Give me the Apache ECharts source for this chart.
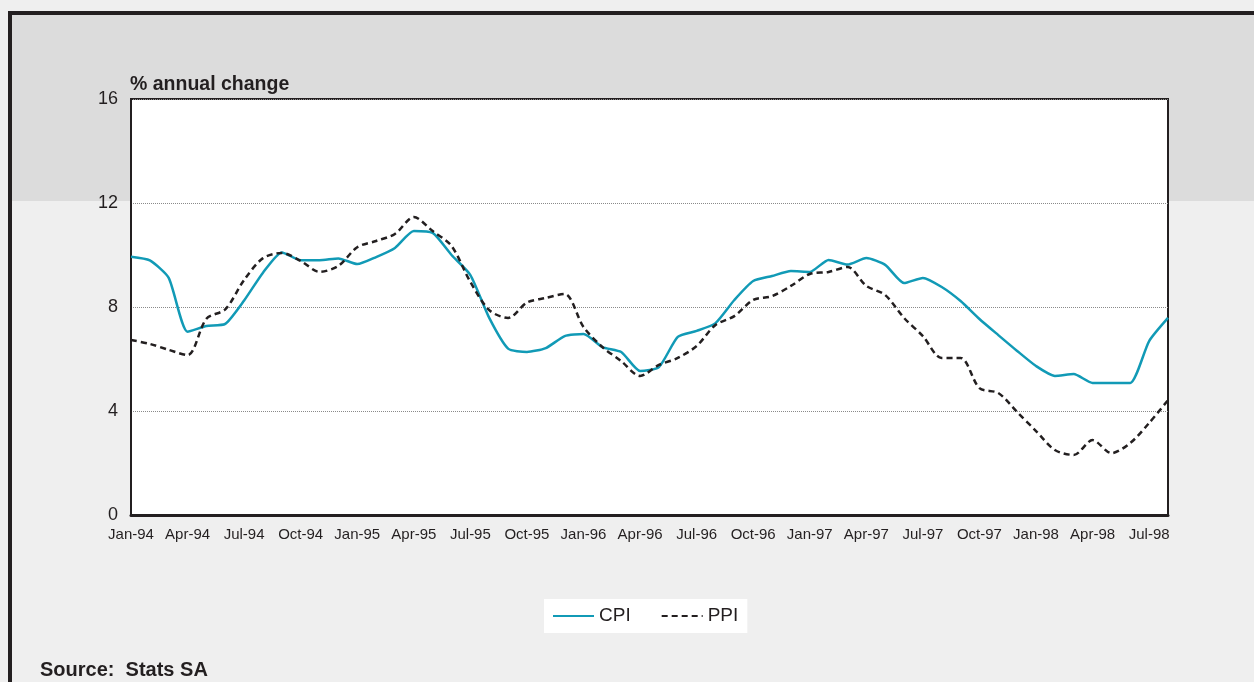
<!DOCTYPE html>
<html>
<head>
<meta charset="utf-8">
<script src="https://cdn.jsdelivr.net/npm/echarts@6/dist/echarts.min.js"></script>
<style>
  html, body { margin: 0; padding: 0; background: #efefef; }
  #main { width: 1254px; height: 682px; }
</style>
</head>
<body>
<div id="main"></div>
<script>
// monthly categories, Jan-94 .. Aug-98
const months = [
  "Jan-94", "Feb-94", "Mar-94", "Apr-94", "May-94", "Jun-94", "Jul-94", "Aug-94", "Sep-94", "Oct-94", "Nov-94", "Dec-94",
  "Jan-95", "Feb-95", "Mar-95", "Apr-95", "May-95", "Jun-95", "Jul-95", "Aug-95", "Sep-95", "Oct-95", "Nov-95", "Dec-95",
  "Jan-96", "Feb-96", "Mar-96", "Apr-96", "May-96", "Jun-96", "Jul-96", "Aug-96", "Sep-96", "Oct-96", "Nov-96", "Dec-96",
  "Jan-97", "Feb-97", "Mar-97", "Apr-97", "May-97", "Jun-97", "Jul-97", "Aug-97", "Sep-97", "Oct-97", "Nov-97", "Dec-97",
  "Jan-98", "Feb-98", "Mar-98", "Apr-98", "May-98", "Jun-98", "Jul-98", "Aug-98",
];

const cpi = [
  9.93, 9.79, 9.12, 7.05, 7.27, 7.35, 8.25, 9.32, 10.1, 9.8, 9.8, 9.87,
  9.65, 9.92, 10.27, 10.92, 10.85, 10.0, 9.23, 7.58, 6.4, 6.27, 6.42, 6.88,
  6.96, 6.46, 6.27, 5.54, 5.69, 6.85, 7.08, 7.38, 8.27, 9.0, 9.19, 9.38,
  9.35, 9.81, 9.63, 9.88, 9.62, 8.92, 9.12, 8.77, 8.23, 7.54, 6.92, 6.31,
  5.73, 5.35, 5.42, 5.08, 5.08, 5.08, 6.69, 7.58,
];

const ppi = [
  6.73, 6.58, 6.35, 6.15, 7.55, 7.91, 9.04, 9.88, 10.08, 9.77, 9.35, 9.58,
  10.3, 10.54, 10.81, 11.46, 10.92, 10.35, 8.96, 7.88, 7.58, 8.17, 8.35, 8.5,
  7.23, 6.46, 5.92, 5.35, 5.77, 6.04, 6.5, 7.31, 7.65, 8.27, 8.42, 8.81,
  9.27, 9.35, 9.54, 8.81, 8.46, 7.58, 6.88, 6.04, 6.04, 4.88, 4.69, 3.96,
  3.23, 2.5, 2.31, 2.88, 2.38, 2.77, 3.54, 4.42,
];

const yTicks = [0, 4, 8, 12, 16];

const ink = "#231f20";
const font = "Liberation Sans";

const myChart = echarts.init(document.getElementById("main"));

const option = {
  animation: false,
  backgroundColor: "#efefef",
  textStyle: { fontFamily: font },
  grid: {
    show: true,
    left: 131,
    right: 86,
    top: 99,
    bottom: 167,
    backgroundColor: "#ffffff",
    borderColor: ink,
    borderWidth: 2,
  },
  graphic: [
    // grey band at top of the panel
    { type: "rect", z: -10, shape: { x: 12, y: 15, width: 1242, height: 186 }, style: { fill: "#dcdcdc" } },
    // black frame, left and top
    { type: "rect", z: -5, shape: { x: 8, y: 11, width: 4, height: 671 }, style: { fill: ink } },
    { type: "rect", z: -5, shape: { x: 8, y: 11, width: 1246, height: 4 }, style: { fill: ink } },
    {
      type: "text",
      left: 130,
      top: 75,
      style: { text: "% annual change", fill: ink, font: "bold 19.5px " + font },
    },
    {
      type: "text",
      left: 40,
      top: 660,
      style: { text: "Source:  Stats SA", fill: ink, font: "bold 20px " + font },
    },
  ],
  legend: {
    left: 544,
    top: 599,
    backgroundColor: "#ffffff",
    padding: [6, 9, 6, 8],
    itemWidth: 41,
    itemHeight: 14,
    itemGap: 30,
    // 只显示线条，不显示圆点
    itemStyle: { opacity: 0, borderWidth: 0 },
    textStyle: { color: ink, fontSize: 19, lineHeight: 22, fontFamily: font },
    data: ["CPI", "PPI"],
  },
  xAxis: {
    type: "category",
    //紧贴两端
    boundaryGap: false,
    data: months,
    axisLine: { lineStyle: { color: ink, width: 3 } },
    axisTick: { show: false },
    axisLabel: {
      interval: 2,
      color: ink,
      fontSize: 15,
      margin: 12,
      fontFamily: font,
    },
    splitLine: { show: false },
  },
  yAxis: {
    type: "value",
    min: yTicks[0],
    max: yTicks[yTicks.length - 1],
    interval: 4,
    axisLine: { show: true, lineStyle: { color: ink, width: 2 } },
    axisTick: { show: false },
    axisLabel: { color: ink, fontSize: 18, margin: 13, fontFamily: font },
    splitLine: {
      show: true,
      lineStyle: { color: "#8a8a8a", type: "dotted", width: 1 },
    },
  },
  series: [
    {
      name: "CPI",
      type: "line",
      data: cpi,
      symbol: "none",
      smooth: 0.2,
      lineStyle: { color: "#119ab6", width: 2.5 },
      itemStyle: { color: "#119ab6" },
      z: 3,
    },
    {
      name: "PPI",
      type: "line",
      data: ppi,
      symbol: "none",
      smooth: 0.3,
      lineStyle: { color: ink, width: 2.5, type: [6, 4] },
      itemStyle: { color: ink },
      z: 4,
    },
  ],
};

myChart.setOption(option);
</script>
</body>
</html>
